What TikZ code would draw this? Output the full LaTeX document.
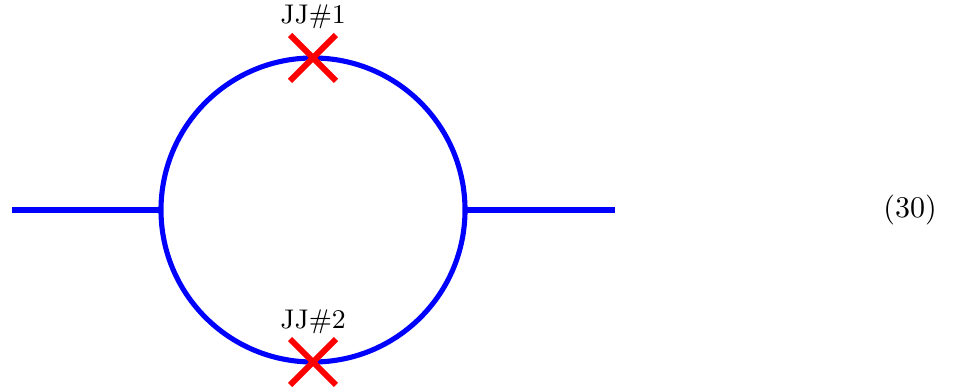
\documentclass[tikz,border=0pt]{standalone}
\usetikzlibrary{shapes.misc}
\begin{document}
\begin{tikzpicture}[x=0.3333pt,y=-0.3333pt,
  wire/.style={draw=blue,line width=1.7pt},
  jj/.style={cross out,draw=red,line width=2pt,minimum size=15.3pt,inner sep=0pt,outer sep=0pt},
  jjlabel/.style={font=\small,inner sep=0pt}]
\useasboundingbox (0,0) rectangle (961,387);
\node[circle,wire,minimum size=101.33pt,inner sep=0pt,outer sep=0pt] (loop) at (313,210) {};
\coordinate (lend) at (12,210);
\coordinate (rend) at (615,210);
\draw[wire] (lend) -- (loop.west);
\draw[wire] (loop.east) -- (rend);
\node[jj] (jj1) at (loop.north) {};
\node[jj] (jj2) at (loop.south) {};
\node[jjlabel] (l1) at (313,17) {JJ\#1};
\node[jjlabel] (l2) at (313,322) {JJ\#2};
\node[inner sep=0pt] (eq) at (910,210) {(30)};
\end{tikzpicture}
\end{document}
